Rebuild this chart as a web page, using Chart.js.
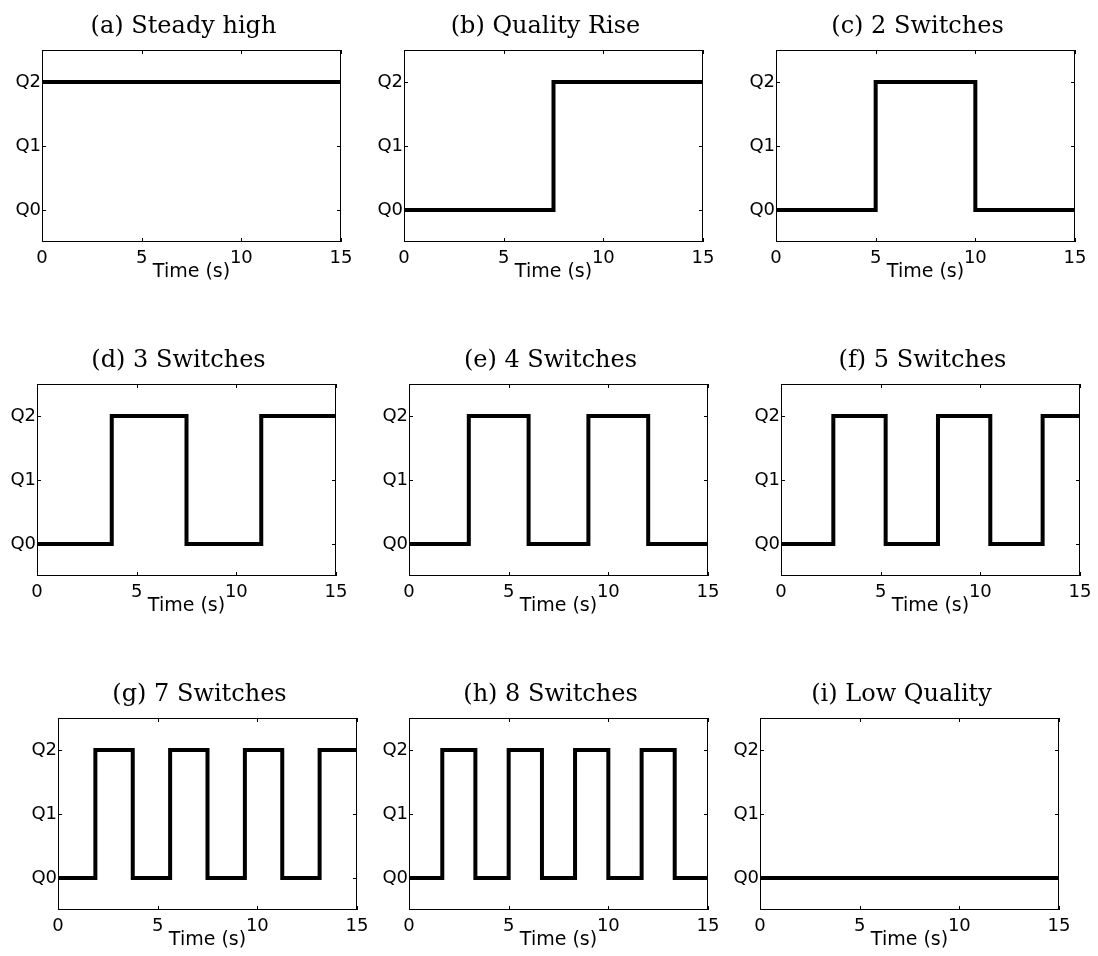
<!DOCTYPE html>
<html>
<head>
<meta charset="utf-8">
<script src="https://cdn.jsdelivr.net/npm/chart.js@4.4.1/dist/chart.umd.min.js"></script>
<style>
    html, body { margin: 0; padding: 0; background: #fff; overflow: hidden; }
    body { position: relative; width: 1098px; height: 956px; }
    canvas { position: absolute; }
</style>
</head>
<body>
<script>
const xTicks = [0, 5, 10, 15];
const yTicks = [0, 1, 2];
const qualityLabels = ['Q0', 'Q1', 'Q2'];

const panelTitles = [
    '(a) Steady high', '(b) Quality Rise', '(c) 2 Switches',
    '(d) 3 Switches', '(e) 4 Switches', '(f) 5 Switches',
    '(g) 7 Switches', '(h) 8 Switches', '(i) Low Quality',
];

// switch instants (s) and the quality level held from each one on
const timesA = [0, 15];
const levelsA = [2, 2];
const timesB = [0, 7.5, 15];
const levelsB = [0, 2, 2];
const timesC = [0, 5, 10, 15];
const levelsC = [0, 2, 0, 0];
const timesD = [0, 3.75, 7.5, 11.25, 15];
const levelsD = [0, 2, 0, 2, 2];
const timesE = [0, 3, 6, 9, 12, 15];
const levelsE = [0, 2, 0, 2, 0, 0];
const timesF = [0, 2.625, 5.25, 7.875, 10.5, 13.125, 15];
const levelsF = [0, 2, 0, 2, 0, 2, 2];
const timesG = [0, 1.875, 3.75, 5.625, 7.5, 9.375, 11.25, 13.125, 15];
const levelsG = [0, 2, 0, 2, 0, 2, 0, 2, 2];
const timesH = [0, 1.67, 3.33, 5, 6.67, 8.33, 10, 11.67, 13.33, 15];
const levelsH = [0, 2, 0, 2, 0, 2, 0, 2, 0, 0];
const timesI = [0, 15];
const levelsI = [0, 0];

const allTimes = [timesA, timesB, timesC, timesD, timesE, timesF, timesG, timesH, timesI];
const allLevels = [levelsA, levelsB, levelsC, levelsD, levelsE, levelsF, levelsG, levelsH, levelsI];

// canvas corners on the page, 3x3 grid
const panelOrigins = [
    [2, 0], [364, 0], [736, 0],
    [-3, 334], [369, 334], [741, 334],
    [18, 668], [369, 668], [720, 668],
];

Chart.defaults.color = '#000';

// box round the plot area with inward ticks on all four sides
const axesFrame = {
    id: 'axesFrame',
    afterDatasetsDraw(chart) {
        const {ctx, chartArea: area, scales: {x, y}} = chart;
        const len = 4;
        ctx.save();
        ctx.strokeStyle = '#000';
        ctx.lineWidth = 1;
        ctx.strokeRect(area.left + 0.5, area.top + 0.5, area.width - 1, area.height - 1);
        ctx.beginPath();
        x.ticks.forEach(t => {
            const px = Math.round(x.getPixelForValue(t.value)) + 0.5;
            ctx.moveTo(px, area.bottom);
            ctx.lineTo(px, area.bottom - len);
            ctx.moveTo(px, area.top);
            ctx.lineTo(px, area.top + len);
        });
        y.ticks.forEach(t => {
            const py = Math.round(y.getPixelForValue(t.value)) + 0.5;
            ctx.moveTo(area.left, py);
            ctx.lineTo(area.left + len, py);
            ctx.moveTo(area.right, py);
            ctx.lineTo(area.right - len, py);
        });
        ctx.stroke();
        ctx.restore();
    },
};

function makePanel(i) {
    const canvas = document.createElement('canvas');
    canvas.width = 363;
    canvas.height = 284;
    canvas.style.left = panelOrigins[i][0] + 'px';
    canvas.style.top = panelOrigins[i][1] + 'px';
    document.body.appendChild(canvas);

    const points = allTimes[i].map((t, k) => ({x: t, y: allLevels[i][k]}));

    new Chart(canvas, {
        type: 'line',
        data: {
            datasets: [{
                data: points,
                stepped: 'before',
                borderColor: '#000',
                borderWidth: 4,
                borderCapStyle: 'butt',
                borderJoinStyle: 'miter',
                pointRadius: 0,
                fill: false,
                clip: 0,
            }],
        },
        options: {
            responsive: false,
            animation: false,
            events: [],
            layout: {padding: {left: 24, right: 24, top: 0, bottom: 0}},
            plugins: {
                legend: {display: false},
                tooltip: {enabled: false},
                title: {
                    display: true,
                    text: panelTitles[i],
                    color: '#000',
                    padding: {top: 14, bottom: 10},
                    font: {family: 'DejaVu Serif', size: 24, weight: 'normal', lineHeight: '26px'},
                },
            },
            scales: {
                x: {
                    type: 'linear',
                    min: 0,
                    max: 15,
                    grid: {display: false, drawTicks: false},
                    border: {display: false},
                    afterBuildTicks: s => { s.ticks = xTicks.map(v => ({value: v})); },
                    afterFit: s => { s.height = 42; s.paddingLeft = 0; s.paddingRight = 0; },
                    ticks: {
                        color: '#000',
                        padding: 6,
                        maxRotation: 0,
                        autoSkip: false,
                        font: {family: 'DejaVu Sans', size: 18},
                    },
                    title: {
                        display: true,
                        text: 'Time (s)',
                        color: '#000',
                        padding: {top: 0, bottom: 1},
                        font: {family: 'DejaVu Sans', size: 19, lineHeight: '22px'},
                    },
                },
                y: {
                    type: 'linear',
                    min: -0.5,
                    max: 2.5,
                    grid: {display: false, drawTicks: false},
                    border: {display: false},
                    afterBuildTicks: s => { s.ticks = yTicks.map(v => ({value: v})); },
                    afterFit: s => {
                        // narrow axis box; labels spill into the left padding
                        s.width = 16;
                        s._computeLabelArea = () => undefined;
                    },
                    ticks: {
                        color: '#000',
                        padding: 1,
                        autoSkip: false,
                        font: {family: 'DejaVu Sans', size: 18},
                        callback: (v, k) => qualityLabels[k],
                    },
                },
            },
        },
        plugins: [axesFrame],
    });
}

panelTitles.forEach((t, i) => makePanel(i));
</script>
</body>
</html>
